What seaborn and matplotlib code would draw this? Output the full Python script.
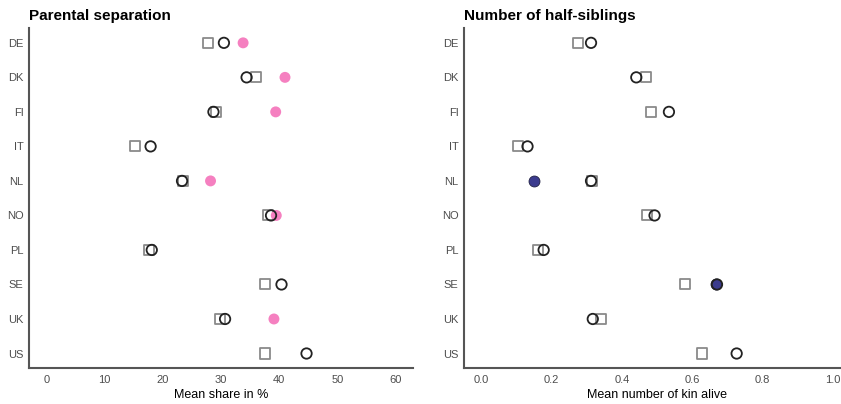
import matplotlib
matplotlib.use("Agg")
import matplotlib.pyplot as plt
import numpy as np
import pandas as pd
import seaborn as sns

sns.set_theme(style="white")
plt.rcParams["font.family"] = ["Liberation Sans", "DejaVu Sans"]

countries = ["DE", "DK", "FI", "IT", "NL", "NO", "PL", "SE", "UK", "US"]

# Parental separation, mean share in %
sep_square = [27.7, 36.0, 29.1, 15.3, 23.4, 38.0, 17.7, 37.5, 29.8, 37.5]
sep_circle = [30.5, 34.4, 28.7, 17.9, 23.3, 38.6, 18.1, 40.4, 30.7, 44.7]
sep_filled = [33.8, 41.0, 39.4, np.nan, 28.2, 39.5, np.nan, np.nan, 39.1, np.nan]

# Number of half-siblings, mean number of kin alive
hs_square = [0.276, 0.468, 0.482, 0.105, 0.315, 0.472, 0.162, 0.581, 0.341, 0.629]
hs_circle = [0.312, 0.441, 0.534, 0.131, 0.312, 0.493, 0.177, 0.671, 0.317, 0.727]
hs_filled = [np.nan, np.nan, np.nan, np.nan, 0.150, np.nan, np.nan, 0.668, np.nan, np.nan]

sep_ticks = [0, 10, 20, 30, 40, 50, 60]
hs_ticks = [0.0, 0.2, 0.4, 0.6, 0.8, 1.0]

W, H = 841, 404
fig = plt.figure(figsize=(W / 100, H / 100), dpi=100)

def box(x0, x1, top=28, bottom=368):
    return [x0 / W, (H - bottom) / H, (x1 - x0) / W, (bottom - top) / H]

ax1 = fig.add_axes(box(29, 413))
ax2 = fig.add_axes(box(464, 850))

spine_col = "#555555"
tick_col = "#4d4d4d"


def panel(ax, sq, ci, fi, fill_col, title, xlabel, ticks, xlim, fill_edge):
    df = pd.DataFrame({"country": countries, "sq": sq, "ci": ci, "fi": fi})
    sns.scatterplot(data=df, x="sq", y="country", ax=ax, marker="s", s=52,
                    facecolor="none", edgecolor="#8a8a8a", linewidth=1.3,
                    zorder=2)
    sns.scatterplot(data=df.dropna(subset=["fi"]), x="fi", y="country", ax=ax,
                    marker="o", s=62, color=fill_col, edgecolor=fill_edge,
                    linewidth=0.6 if fill_edge != "none" else 0, zorder=3)
    sns.scatterplot(data=df, x="ci", y="country", ax=ax, marker="o", s=56,
                    facecolor="none", edgecolor="#222222", linewidth=1.3,
                    zorder=4)
    ax.set_xlim(*xlim)
    ax.set_ylim(9.42, -0.43)
    ax.set_xticks(ticks)
    ax.set_xticklabels([f"{t:g}" if isinstance(t, int) else f"{t:.1f}" for t in ticks])
    ax.set_yticks(range(len(countries)))
    ax.set_yticklabels(countries)
    ax.tick_params(axis="both", length=0, labelsize=8, colors=tick_col)
    ax.tick_params(axis="y", pad=4)
    ax.tick_params(axis="x", pad=5)
    ax.set_xlabel(xlabel, fontsize=9, color="black", labelpad=3)
    ax.set_ylabel("")
    ax.set_title(title, loc="left", fontsize=11, fontweight="bold",
                 color="black", pad=6)
    for side in ["top", "right"]:
        ax.spines[side].set_visible(False)
    for side in ["left", "bottom"]:
        ax.spines[side].set_color(spine_col)
        ax.spines[side].set_linewidth(1.5)
    ax.grid(False)


panel(ax1, sep_square, sep_circle, sep_filled, "#f580c0",
      "Parental separation", "Mean share in %", sep_ticks, (-3, 63), "none")
panel(ax2, hs_square, hs_circle, hs_filled, "#3b3b8e",
      "Number of half-siblings", "Mean number of kin alive", hs_ticks,
      (-0.05, 1.05), "#222244")

fig.savefig("out.png", dpi=100)
